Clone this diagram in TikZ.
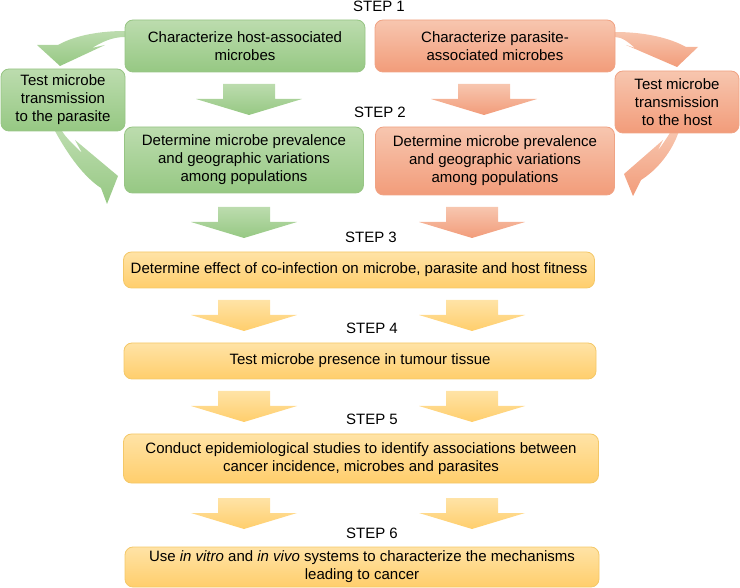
\documentclass[tikz,border=0pt]{standalone}
\usepackage{fontspec}
\setmainfont{Liberation Sans}
\usepackage{tikz}

\definecolor{greentop}{HTML}{BCDCAE}
\definecolor{greenbot}{HTML}{96C883}
\definecolor{greenline}{HTML}{97C584}
\definecolor{orangetop}{HTML}{F7C6AF}
\definecolor{orangebot}{HTML}{F29C7A}
\definecolor{orangeline}{HTML}{F0A384}
\definecolor{yellowtop}{HTML}{FFE3A6}
\definecolor{yellowbot}{HTML}{FFCE6C}
\definecolor{yellowline}{HTML}{F4C868}

% block arrow pointing down: style, centre x, top y
\newcommand{\blockarrow}[3]{%
	\shade[#1] (#2-26,#3) -- (#2+26,#3) -- (#2+26,#3+15) -- (#2+53,#3+15)
		-- (#2,#3+31) -- (#2-53,#3+15) -- (#2-26,#3+15) -- cycle;}

\begin{document}
\begin{tikzpicture}
		[x=1pt,y=-1pt,font=\fontsize{15}{18}\selectfont,
		box/.style={rounded corners=8pt,align=center,inner sep=0pt,line width=.8pt},
		green box/.style={box,draw=greenline,top color=greentop,bottom color=greenbot},
		orange box/.style={box,draw=orangeline,top color=orangetop,bottom color=orangebot},
		yellow box/.style={box,draw=yellowline,top color=yellowtop,bottom color=yellowbot},
		green arrow/.style={top color=greentop,bottom color=greenbot},
		orange arrow/.style={top color=orangetop,bottom color=orangebot},
		yellow arrow/.style={top color=yellowtop,bottom color=yellowbot},
		step label/.style={inner sep=0pt}]
		\useasboundingbox (0,0) rectangle (740,588);
		
		% curved arrows to and from the transmission tests
		\shade[green arrow] (125,31) .. controls (95,31) and (72,37) .. (58,45) -- (37,45)
			-- (60,66) -- (105,45) -- (92,48) .. controls (102,42) and (112,37) .. (125,37) -- cycle;
		\shade[green arrow] (55,131) .. controls (68,155) and (84,177) .. (101,188) -- (107,204)
			-- (118,176) -- (75,140) -- (82,153) .. controls (74,145) and (66,138) .. (62,131) -- cycle;
		\shade[orange arrow] (615,32) .. controls (645,32) and (670,38) .. (686,47) -- (698,47)
			-- (677,67) -- (626,45) -- (635,48) .. controls (628,42) and (622,37) .. (615,37) -- cycle;
		\shade[orange arrow] (679,131) .. controls (672,152) and (657,170) .. (641,180) -- (633,196)
			-- (624,174) -- (663,140) -- (657,152) .. controls (662,145) and (667,138) .. (671,131) -- cycle;
		
		% down arrows between the steps
		\blockarrow{green arrow}{249}{84}
		\blockarrow{orange arrow}{484}{84}
		\blockarrow{green arrow}{244}{207}
		\blockarrow{orange arrow}{472}{207}
		\foreach \y in {300,391,498}{
			\blockarrow{yellow arrow}{244}{\y}
			\blockarrow{yellow arrow}{472}{\y}
		}
		
		\node[step label] (lab1) at (379,6.5) {STEP 1};
		\node[step label] (lab2) at (380,112) {STEP 2};
		\node[step label] (lab3) at (371,237) {STEP 3};
		\node[step label] (lab4) at (372,328) {STEP 4};
		\node[step label] (lab5) at (372,419.5) {STEP 5};
		\node[step label] (lab6) at (372,533.5) {STEP 6};
		
		\node[green box,minimum width=240pt,minimum height=52pt] (host1) at (245,46)
			{Characterize host-associated\\microbes};
		\node[orange box,minimum width=240pt,minimum height=52pt] (para1) at (495,46)
			{Characterize parasite-\\associated microbes};
		\node[green box,minimum width=124pt,minimum height=62pt] (testpar) at (63,100)
			{Test microbe\\transmission\\to the parasite};
		\node[orange box,minimum width=124pt,minimum height=62pt] (testhost) at (677,102)
			{Test microbe\\transmission\\to the host};
		\node[green box,minimum width=239pt,minimum height=66pt] (host2) at (244,160)
			{Determine microbe prevalence\\and geographic variations\\among populations};
		\node[orange box,minimum width=239pt,minimum height=68pt] (para2) at (495,161)
			{Determine microbe prevalence\\and geographic variations\\among populations};
		
		\node[yellow box,minimum width=471pt,minimum height=36pt] (step3) at (359,270)
			{Determine effect of co-infection on microbe, parasite and host fitness};
		\node[yellow box,minimum width=472pt,minimum height=36pt] (step4) at (360,361)
			{Test microbe presence in tumour tissue};
		\node[yellow box,minimum width=475pt,minimum height=49pt] (step5) at (361,458.5)
			{Conduct epidemiological studies to identify associations between\\cancer incidence, microbes and parasites};
		\node[yellow box,minimum width=474pt,minimum height=40pt] (step6) at (362,567)
			{Use \textit{in vitro} and \textit{in vivo} systems to characterize the mechanisms\\leading to cancer};
		\end{tikzpicture}
\end{document}
